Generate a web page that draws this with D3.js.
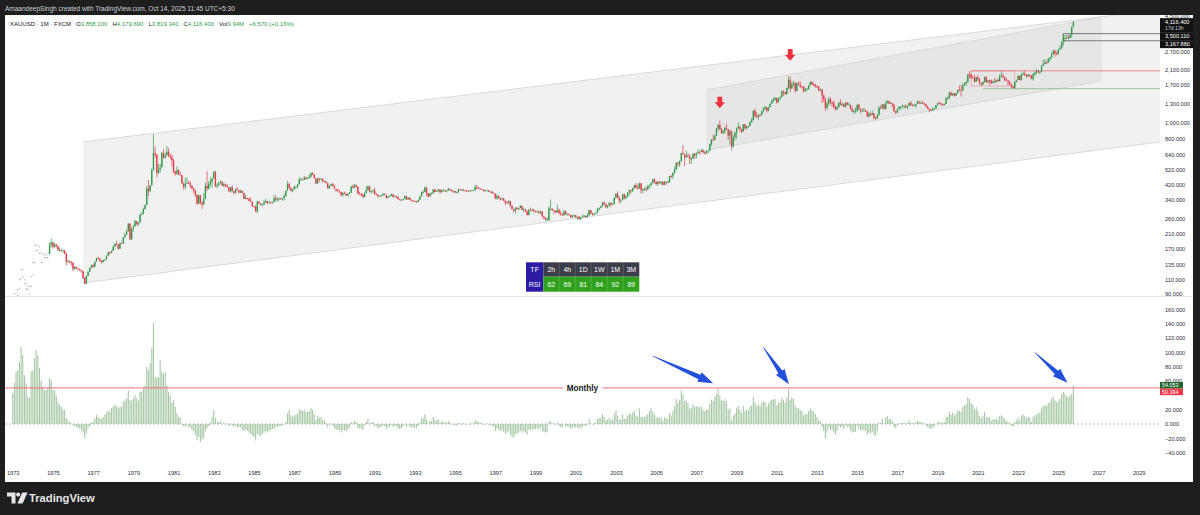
<!DOCTYPE html>
<html>
<head>
<meta charset="utf-8">
<script src="https://cdn.jsdelivr.net/npm/d3@7"></script>
<style>
  html, body { margin: 0; padding: 0; background: #1e1e1e; }
  svg { display: block; }
  text { font-family: "Liberation Sans", Arial, sans-serif; }
</style>
</head>
<body>
<script>
// ---------- data ----------
// Month index 0 = Jan 1973.
const yearLabels = ["1973","1975","1977","1979","1981","1983","1985","1987","1989","1991","1993","1995","1997","1999",
  "2001","2003","2005","2007","2009","2011","2013","2015","2017","2019","2021","2023","2025","2027","2029"];
const priceTicks = [4500, 2700, 2100, 1700, 1300, 1000, 800, 640, 520, 420, 340, 260, 210, 170, 135, 110, 90];
const oscTicks = [160, 140, 120, 100, 80, 60, 20, 0, -20, -40];

const symbolText = "XAUUSD · 1M · FXCM";
const lastBar = [3858.100, 4179.690, 3819.340, 4116.400]; // O H L C
const lastVolume = "9.94M";
const lastChange = "+6.570 (+0.16%)";
const countdown = "17d 13h";

const rsiFrames = ["2h", "4h", "1D", "1W", "1M", "3M"];
const rsiValues = [62, 69, 81, 84, 92, 89];

// Sparse prints Jan 1973 - Oct 1974
const earlyHighs = [68,90,92,96,110,126,127,110,105,101,100,115, 140,180,178,180,175,160,158,158,155,160];
const earlyLows  = [63,65,82,88,98,112,115,104,97,96,90,100, 118,140,165,168,160,140,140,150,150,150];

// Monthly candles from Nov 1974 (month index 22)
const candleStart = 22;
const firstOpen = 158;
const closes = [
 181,186,
 175,181,177,167,167,166,166,159,142,143,142,140,
 128,132,129,128,126,124,113,104,116,123,130,135,
 132,142,149,148,143,141,145,146,154,162,161,165,
 175,182,181,170,184,183,200,208,217,242,194,226,
 233,251,240,246,275,277,296,315,397,382,415,512,
 653,637,494,518,535,653,614,631,666,629,619,590,
 502,489,513,482,479,426,406,425,428,427,414,397,
 387,363,320,361,325,317,342,411,397,423,437,456,
 499,408,414,429,437,413,422,414,405,382,405,382,
 373,394,388,375,384,373,342,348,343,333,329,309,
 306,288,330,321,315,317,327,333,324,326,325,327,
 345,339,345,345,343,346,357,384,423,401,383,391,
 405,405,421,451,451,447,462,453,459,469,492,484,
 458,426,457,449,455,436,437,427,397,413,422,410,
 394,387,383,377,362,373,368,359,367,375,408,401,
 415,407,368,367,363,352,372,387,408,379,384,386,
 366,363,355,357,361,367,362,347,354,357,366,353,
 354,353,341,337,337,343,357,340,349,339,334,333,
 330,328,338,355,377,378,401,372,355,369,370,392,
 378,382,392,377,386,386,384,385,394,389,383,383,
 375,376,392,391,385,387,384,383,384,383,387,387,
 405,400,396,392,390,382,385,387,379,379,371,369,
 345,358,348,340,345,334,326,325,332,311,296,290,
 303,297,301,310,293,296,288,273,294,292,294,288,
 287,287,280,286,268,262,255,255,299,299,292,290,
 283,293,279,275,272,288,276,277,273,264,269,272,
 266,267,258,264,267,270,265,273,293,279,275,279,
 282,297,302,308,326,318,305,312,324,317,319,348,
 368,348,335,339,364,346,354,375,388,384,398,416,
 400,397,427,388,394,394,391,408,416,429,452,438,
 423,434,428,436,418,436,429,434,473,470,495,517,
 568,557,583,654,643,614,632,624,599,604,648,632,
 650,665,662,680,659,650,666,673,743,789,783,834,
 923,972,916,864,886,930,913,833,884,717,816,869,
 928,942,916,883,978,927,954,955,1008,1040,1182,1096,
 1081,1118,1113,1180,1213,1244,1181,1248,1308,1359,1386,1420,
 1332,1411,1439,1556,1536,1501,1628,1826,1620,1722,1746,1564,
 1738,1710,1669,1664,1561,1604,1614,1692,1772,1719,1712,1675,
 1662,1578,1595,1472,1393,1234,1313,1395,1327,1323,1251,1202,
 1240,1326,1284,1296,1250,1327,1282,1287,1211,1171,1182,1184,
 1283,1213,1183,1183,1190,1172,1095,1133,1115,1142,1065,1061,
 1116,1238,1233,1293,1215,1322,1351,1309,1316,1277,1173,1152,
 1211,1249,1249,1268,1268,1242,1269,1322,1280,1271,1275,1303,
 1345,1318,1325,1315,1298,1253,1224,1201,1192,1215,1222,1282,
 1321,1313,1292,1284,1305,1409,1413,1520,1472,1513,1464,1517,
 1589,1585,1577,1687,1730,1781,1975,1967,1886,1879,1776,1898,
 1847,1734,1707,1769,1907,1770,1814,1813,1743,1783,1775,1829,
 1797,1909,1937,1897,1838,1807,1766,1711,1661,1633,1768,1824,
 1928,1827,1969,1990,1963,1919,1965,1940,1849,1983,2036,2063,
 2039,2044,2230,2286,2327,2326,2447,2503,2634,2744,2643,2624,
 2798,2858,3124,3288,3289,3303,3290,3448,3858.1,4116.4
];
const highs = [
 186,197,
 186,185,182,178,173,170,168,166,160,146,144,142,
 140,133,133,130,128,127,124,114,117,124,131,136,
 137,142,150,152,149,145,146,147,155,163,163,166,
 178,184,190,181,185,186,200,213,223,243,244,227,
 238,256,250,246,278,284,303,316,412,447,417,524,
 850,713,645,560,560,660,690,657,721,700,649,640,
 602,511,541,520,502,480,432,462,464,442,440,415,
 402,387,366,361,350,332,372,432,506,440,462,458,
 510,508,426,437,445,436,430,425,420,398,405,416,
 383,396,406,388,390,388,357,362,348,349,351,332,
 309,314,334,330,322,320,338,343,333,332,330,330,
 362,359,349,349,347,346,367,384,442,430,403,391,
 416,409,421,463,464,450,474,470,463,484,499,499,
 483,456,460,454,458,456,444,441,431,413,425,430,
 419,394,397,390,378,376,380,372,369,378,410,419,
 423,421,410,379,372,369,375,411,413,412,384,391,
 401,372,365,360,362,371,372,357,356,362,369,366,
 360,358,354,342,341,343,361,358,349,347,339,337,
 334,332,339,358,380,387,409,405,371,373,377,392,
 394,387,393,393,389,396,388,389,400,396,391,385,
 385,380,396,395,392,395,388,390,387,387,390,389,
 418,416,404,400,395,391,389,392,387,384,385,375,
 369,365,358,348,350,346,336,333,336,334,314,298,
 305,302,304,315,302,301,297,291,298,303,299,298,
 290,291,288,291,290,268,264,265,309,340,300,293,
 292,316,300,290,280,293,291,280,278,274,275,275,
 272,267,269,266,275,275,271,280,294,291,282,281,
 282,302,304,312,327,330,322,315,327,327,325,349,
 373,382,355,340,370,371,363,376,391,391,400,417,
 428,420,430,428,397,405,407,418,420,432,455,457,
 433,441,444,439,438,441,430,445,474,479,497,541,
 575,576,588,655,730,640,675,651,641,615,650,648,
 658,692,669,693,690,673,684,677,743,794,845,844,
 928,975,1033,934,905,946,988,915,906,905,841,882,
 934,1006,960,914,980,986,957,958,1024,1070,1195,1227,
 1161,1120,1127,1180,1249,1265,1209,1249,1308,1387,1424,1431,
 1423,1416,1448,1576,1577,1553,1633,1913,1921,1772,1804,1764,
 1764,1792,1792,1678,1666,1640,1630,1692,1790,1796,1754,1722,
 1694,1679,1617,1612,1487,1425,1348,1434,1434,1361,1362,1268,
 1279,1332,1392,1331,1315,1332,1345,1323,1287,1255,1206,1238,
 1307,1305,1219,1224,1232,1205,1175,1169,1157,1191,1143,1089,
 1127,1263,1283,1303,1303,1362,1375,1367,1343,1318,1304,1183,
 1220,1264,1262,1295,1274,1296,1274,1331,1358,1306,1299,1307,
 1366,1361,1356,1366,1326,1309,1265,1221,1214,1243,1237,1284,
 1326,1346,1324,1310,1306,1439,1453,1555,1557,1518,1516,1525,
 1592,1689,1703,1747,1765,1789,1981,2075,1992,1933,1965,1900,
 1959,1871,1755,1798,1912,1917,1832,1834,1836,1813,1877,1831,
 1853,1974,2070,1998,1910,1880,1814,1808,1735,1682,1786,1833,
 1949,1959,2010,2049,2079,1984,1987,1949,1953,2009,2052,2135,
 2088,2065,2236,2431,2450,2387,2484,2531,2685,2790,2801,2726,
 2817,2956,3128,3500.11,3435,3452,3439,3453,3871,4179.69
];
const lows = [
 158,173,
 170,172,173,165,163,164,160,157,134,139,138,134,
 124,126,128,125,125,121,111,103,104,116,123,130,
 130,132,142,147,142,138,140,143,146,154,156,160,
 165,174,179,168,170,182,183,199,207,217,193,193,
 217,234,237,233,246,276,285,296,316,356,376,416,
 520,610,465,485,495,535,605,600,632,617,600,542,
 491,476,480,479,479,424,390,392,423,424,398,392,
 371,352,315,320,316,297,314,343,382,390,408,399,
 456,405,398,414,426,411,404,405,403,380,374,380,
 365,370,386,371,371,371,342,344,340,333,330,307,
 302,284,280,320,312,309,314,324,317,323,320,321,
 343,332,329,335,338,335,335,353,384,395,381,376,
 389,396,401,421,442,445,446,453,450,457,463,479,
 458,422,427,437,451,435,434,427,396,397,409,410,
 394,377,383,372,356,354,366,357,356,367,372,398,
 399,406,368,367,357,346,351,372,385,375,369,373,
 365,362,350,354,355,356,362,344,346,355,358,351,
 350,349,340,335,333,336,342,339,339,338,330,332,
 328,326,328,337,354,369,376,355,349,356,364,370,
 376,378,380,367,374,381,378,375,385,385,377,374,
 372,372,374,390,384,383,381,380,382,381,383,385,
 387,394,395,391,389,381,380,385,378,377,370,367,
 341,338,344,335,340,332,315,320,318,306,296,283,
 278,295,291,301,293,283,287,272,275,288,288,286,
 283,284,279,280,267,257,253,252,252,291,290,278,
 282,284,276,271,271,271,276,271,271,264,264,265,
 262,255,256,255,264,264,264,264,270,277,271,272,
 277,281,291,300,308,314,301,300,308,306,316,317,
 344,346,322,324,336,340,342,351,361,369,378,396,
 399,390,395,370,372,382,383,392,397,411,425,425,
 415,412,425,419,414,415,418,427,430,460,454,489,
 513,539,538,579,639,543,613,610,560,561,602,602,
 604,650,636,664,650,641,648,650,672,720,774,782,
 848,888,906,858,850,858,909,786,736,681,705,777,
 801,912,880,865,881,906,908,931,954,1003,1033,1075,
 1075,1044,1089,1114,1158,1198,1155,1175,1243,1316,1331,1361,
 1309,1329,1380,1422,1462,1478,1480,1604,1534,1605,1669,1523,
 1563,1723,1628,1614,1527,1547,1565,1587,1686,1696,1672,1636,
 1627,1555,1562,1321,1338,1180,1207,1271,1293,1251,1221,1187,
 1202,1240,1280,1268,1241,1240,1281,1273,1206,1161,1132,1142,
 1167,1197,1142,1170,1170,1163,1077,1077,1099,1114,1053,1046,
 1061,1107,1208,1212,1200,1207,1310,1302,1304,1241,1172,1123,
 1146,1209,1195,1241,1214,1236,1205,1265,1271,1261,1264,1236,
 1302,1307,1303,1302,1282,1250,1211,1160,1180,1183,1196,1221,
 1277,1311,1280,1266,1274,1300,1382,1400,1460,1459,1445,1454,
 1517,1562,1451,1568,1681,1671,1757,1863,1849,1860,1764,1776,
 1802,1717,1677,1720,1766,1750,1750,1688,1721,1746,1759,1753,
 1780,1781,1890,1872,1787,1805,1681,1709,1615,1618,1617,1765,
 1824,1804,1810,1949,1932,1893,1903,1885,1846,1810,1931,1973,
 2001,1984,2039,2229,2277,2286,2353,2364,2471,2604,2536,2583,
 2614,2833,2833,2957,3121,3247,3268,3268,3311,3819.34
];

// Oscillator histogram, Jan 1973 - Oct 2025
const oscValues = [
 43,57,73,75,87,108,96,68,57,38,36,73,
 75,92,103,96,78,61,52,47,47,52,64,61,
 47,47,40,31,27,24,20,20,8,5,3,1,
 -2,-3,-4,-5,-7,-8,-12,-20,-13,-6,-3,2,
 3,8,13,10,8,7,10,13,16,19,17,22,
 25,27,25,22,24,24,31,33,36,47,33,33,
 36,40,36,33,45,45,50,54,80,75,85,106,
 141,65,65,65,89,73,70,73,54,45,40,30,
 33,24,15,10,9,0,-3,-4,-1,-4,-5,-8,
 -10,-15,-22,-18,-25,-22,-20,-10,-6,-3,2,10,
 20,8,2,3,4,0,2,-1,1,-3,0,-2,
 -4,-2,-5,-4,-5,-8,-10,-8,-10,-12,-14,-16,
 -18,-23,-14,-16,-17,-14,-12,-10,-12,-10,-8,-7,
 -6,-4,-4,-3,-3,-2,0,3,15,20,12,10,
 12,13,15,20,20,18,20,17,17,18,22,20,
 14,6,12,9,10,5,5,2,-5,-1,1,-2,
 -6,-8,-8,-9,-12,-8,-9,-10,-8,-5,3,1,
 5,3,-6,-6,-6,-8,-2,3,8,1,2,3,
 -3,-3,-6,-5,-4,-2,-3,-7,-5,-4,-1,-4,
 -3,-3,-6,-7,-6,-4,0,-4,-1,-4,-5,-5,
 -5,-6,-3,2,8,8,14,6,1,4,4,10,
 5,5,7,2,4,3,2,2,4,2,0,0,
 -2,-2,2,1,0,1,0,0,0,0,1,1,
 5,4,3,2,1,-1,0,1,-1,-1,-3,-4,
 -10,-6,-8,-10,-8,-11,-13,-12,-10,-15,-18,-19,
 -14,-14,-12,-9,-12,-10,-12,-15,-8,-8,-7,-8,
 -7,-6,-8,-5,-10,-11,-12,-11,3,4,1,1,
 -1,2,-3,-4,-5,0,-4,-3,-4,-7,-5,-4,
 -5,-4,-7,-5,-4,-2,-3,0,7,2,0,1,
 2,7,8,9,14,10,5,6,9,6,6,14,
 19,11,6,7,13,7,8,12,15,13,16,19,
 12,10,22,10,10,9,12,14,18,22,17,13,
 8,10,8,9,5,9,7,8,15,12,18,25,
 35,30,34,47,41,32,33,29,22,22,28,24,
 24,25,23,24,20,18,20,20,28,34,32,38,
 42,51,40,33,32,35,31,20,22,5,12,15,
 22,25,20,16,25,18,20,19,24,26,38,30,
 25,27,25,30,31,31,24,28,32,34,34,35,
 26,30,30,37,34,30,38,49,34,37,35,25,
 22,22,19,18,12,14,14,18,22,19,17,14,
 10,5,4,-4,-10,-20,-12,-5,-9,-8,-12,-15,
 -10,-3,-5,-4,-7,-2,-5,-4,-9,-12,-11,-11,
 -3,-7,-9,-9,-8,-10,-15,-12,-13,-11,-16,-16,
 -10,2,2,7,1,9,11,7,7,4,-4,-6,
 -2,1,1,2,2,0,2,5,2,1,1,3,
 5,3,3,2,1,-2,-4,-6,-7,-5,-4,0,
 3,3,2,2,3,10,10,17,13,16,12,15,
 19,18,17,24,26,28,38,35,29,27,20,24,
 18,11,8,11,17,9,10,9,5,7,6,8,
 6,11,12,10,7,5,3,1,-2,-4,3,5,
 10,5,12,13,11,8,10,9,3,10,12,13,
 15,16,22,25,27,25,29,31,35,38,33,30,
 32,35,42,45,42,39,37,40,42,54.053
];
const oscLevel = 50.394;
const oscLevelName = "Monthly";

// Drawings: [month index, price]
const outerChannelUpper = [[42, 763], [600, 3844]];
const outerChannelLower = [[42, 105], [600, 588]];
const innerChannelUpper = [[414, 1586], [650, 4428]];
const innerChannelLower = [[414, 682], [650, 1799]];
const rangeRays = [[627, 3500.11], [627, 3167.88]];
const resistanceRay = [572, 2075];
const supportRay = [579, 1615];
const rangeBox = [[572, 2075], [598, 1677]];
const topMarkers = [[422, 1225], [464, 2394]];
// Oscillator arrows: [tail month, tail value, tip month, tip value]
const oscArrows = [[382, 95, 418, 57], [448, 107, 463.2, 55.4], [610, 100, 629.5, 57.6]];

// ---------- layout & scales ----------
const W = 1200, H = 515;
const plotL = 5, plotR = 1160, axisX = 1165;
const mainTop = 15, mainBot = 296, oscTop = 297, oscBot = 463;
const upColor = "#2f9a48", downColor = "#e53945";
const axisFont = 5.6;

const x = d3.scaleLinear().domain([0, 624]).range([12.7, 1058.3]);
const y = d3.scaleLog().domain([90, 4500]).range([294, 15.8]);
const yo = d3.scaleLinear().domain([-40, 160]).range([452.66, 309.36]);

const svg = d3.select("body").append("svg").attr("width", W).attr("height", H);
const defs = svg.append("defs");
defs.append("clipPath").attr("id", "clipMain").append("rect")
  .attr("x", plotL).attr("y", mainTop).attr("width", plotR - plotL).attr("height", mainBot - mainTop);
defs.append("clipPath").attr("id", "clipOsc").append("rect")
  .attr("x", plotL).attr("y", oscTop).attr("width", plotR - plotL).attr("height", oscBot - oscTop);

svg.append("rect").attr("width", W).attr("height", H).attr("fill", "#1e1e1e");
svg.append("rect").attr("x", 5).attr("y", 15).attr("width", 1188).attr("height", 467).attr("fill", "#ffffff");

// ---------- main pane ----------
const main = svg.append("g").attr("clip-path", "url(#clipMain)");

function px(p) { return [x(p[0]), y(p[1])]; }
function extendTo(a, b, xr) {
  const s = (b[1] - a[1]) / (b[0] - a[0]);
  return [xr, a[1] + s * (xr - a[0])];
}

// outer channel, extended to the right edge
{
  const u1 = px(outerChannelUpper[0]), u2 = extendTo(u1, px(outerChannelUpper[1]), plotR + 2);
  const l1 = px(outerChannelLower[0]), l2 = extendTo(l1, px(outerChannelLower[1]), plotR + 2);
  main.append("polygon").attr("points", [u1, u2, l2, l1].map(p => p.join(",")).join(" "))
    .attr("fill", "#f1f1f1");
  main.append("line").attr("x1", u1[0]).attr("y1", u1[1]).attr("x2", u2[0]).attr("y2", u2[1])
    .attr("stroke", "#d2d2d2").attr("stroke-width", 0.8);
  main.append("line").attr("x1", l1[0]).attr("y1", l1[1]).attr("x2", l2[0]).attr("y2", l2[1])
    .attr("stroke", "#d2d2d2").attr("stroke-width", 0.8);
}
// inner channel
{
  const u1 = px(innerChannelUpper[0]), u2 = px(innerChannelUpper[1]);
  const l1 = px(innerChannelLower[0]), l2 = px(innerChannelLower[1]);
  main.append("polygon").attr("points", [u1, u2, l2, l1].map(p => p.join(",")).join(" "))
    .attr("fill", "#e6e6e6");
  [[u1, u2], [l1, l2]].forEach(([a, b]) =>
    main.append("line").attr("x1", a[0]).attr("y1", a[1]).attr("x2", b[0]).attr("y2", b[1])
      .attr("stroke", "#d0d0d0").attr("stroke-width", 0.7));
}

// horizontal levels
rangeRays.forEach(r => {
  main.append("line").attr("x1", x(r[0])).attr("x2", plotR).attr("y1", y(r[1])).attr("y2", y(r[1]))
    .attr("stroke", "#6b6b6b").attr("stroke-width", 0.9);
});
main.append("line").attr("x1", x(rangeRays[0][0])).attr("x2", x(rangeRays[0][0]))
  .attr("y1", y(rangeRays[0][1])).attr("y2", y(rangeRays[1][1])).attr("stroke", "#6b6b6b").attr("stroke-width", 0.9);
main.append("rect").attr("x", x(rangeBox[0][0])).attr("y", y(rangeBox[0][1]))
  .attr("width", x(rangeBox[1][0]) - x(rangeBox[0][0])).attr("height", y(rangeBox[1][1]) - y(rangeBox[0][1]))
  .attr("fill", "none").attr("stroke", "#e9a0a4").attr("stroke-width", 0.8);
main.append("line").attr("x1", x(resistanceRay[0])).attr("x2", plotR)
  .attr("y1", y(resistanceRay[1])).attr("y2", y(resistanceRay[1])).attr("stroke", "#ec7c82").attr("stroke-width", 0.9);
main.append("line").attr("x1", x(supportRay[0])).attr("x2", plotR)
  .attr("y1", y(supportRay[1])).attr("y2", y(supportRay[1])).attr("stroke", "#8cc38f").attr("stroke-width", 0.9);

// early sparse prints
earlyHighs.forEach((h, i) => {
  [h, earlyLows[i]].forEach(v => {
    main.append("circle").attr("cx", x(i)).attr("cy", y(v)).attr("r", 0.55).attr("fill", "#8a8d96");
  });
});

// candles
const candles = closes.map((c, i) => ({
  m: candleStart + i, o: i ? closes[i - 1] : firstOpen, h: highs[i], l: lows[i], c
}));
main.selectAll("line.wick").data(candles).join("line").attr("class", "wick")
  .attr("x1", d => x(d.m)).attr("x2", d => x(d.m))
  .attr("y1", d => y(Math.max(d.h, d.o, d.c))).attr("y2", d => y(Math.min(d.l, d.o, d.c)))
  .attr("stroke", d => d.c >= d.o ? upColor : downColor).attr("stroke-width", 0.7);
main.selectAll("rect.body").data(candles).join("rect").attr("class", "body")
  .attr("x", d => x(d.m) - 0.65).attr("width", 1.3)
  .attr("y", d => y(Math.max(d.o, d.c)))
  .attr("height", d => Math.max(0.8, Math.abs(y(d.o) - y(d.c))))
  .attr("fill", d => d.c >= d.o ? upColor : downColor);

// top markers (down arrows)
topMarkers.forEach(([m, p]) => {
  const cx = x(m), ty = y(p);
  main.append("path")
    .attr("d", `M${cx - 2.4},${ty - 11.6} L${cx + 2.4},${ty - 11.6} L${cx + 2.4},${ty - 6} L${cx + 5.2},${ty - 6} L${cx},${ty} L${cx - 5.2},${ty - 6} L${cx - 2.4},${ty - 6} Z`)
    .attr("fill", "#f0313e");
});

// pane separator
svg.append("line").attr("x1", 5).attr("x2", 1193).attr("y1", 296.5).attr("y2", 296.5)
  .attr("stroke", "#e0e3eb").attr("stroke-width", 1);

// ---------- oscillator pane ----------
const osc = svg.append("g").attr("clip-path", "url(#clipOsc)");
osc.append("line").attr("x1", plotL).attr("x2", plotR).attr("y1", yo(0)).attr("y2", yo(0))
  .attr("stroke", "#9598a1").attr("stroke-width", 0.7).attr("stroke-dasharray", "2,2");
osc.selectAll("rect.bar").data(oscValues).join("rect").attr("class", "bar")
  .attr("x", (d, i) => x(i) - 0.55).attr("width", 1.1)
  .attr("y", d => Math.min(yo(0), yo(d))).attr("height", d => Math.max(0.5, Math.abs(yo(d) - yo(0))))
  .attr("fill", "#a6c8a6");
osc.append("line").attr("x1", plotL).attr("x2", plotR).attr("y1", yo(oscLevel)).attr("y2", yo(oscLevel))
  .attr("stroke", "#f26d75").attr("stroke-width", 1);
{
  const cx = (plotL + plotR) / 2;
  const t = osc.append("text").attr("x", cx).attr("y", yo(oscLevel)).attr("dy", "0.35em")
    .attr("text-anchor", "middle").attr("font-size", 8.2).attr("font-weight", 600).attr("fill", "#131722")
    .text(oscLevelName);
  const bb = t.node().getBBox();
  osc.insert("rect", "text").attr("x", bb.x - 4).attr("y", bb.y).attr("width", bb.width + 8).attr("height", bb.height)
    .attr("fill", "#ffffff");
}
oscArrows.forEach(([m1, v1, m2, v2]) => {
  const x1 = x(m1), y1 = yo(v1), x2 = x(m2), y2 = yo(v2);
  const L = Math.hypot(x2 - x1, y2 - y1), ux = (x2 - x1) / L, uy = (y2 - y1) / L, nx = -uy, ny = ux;
  const hl = Math.min(15, L * 0.34), hw = 5.2, bw = 2.4, tw = 0.3;
  const bx = x2 - ux * hl, by = y2 - uy * hl;
  const pts = [
    [x1 + nx * tw, y1 + ny * tw], [bx + nx * bw, by + ny * bw], [bx + nx * hw, by + ny * hw], [x2, y2],
    [bx - nx * hw, by - ny * hw], [bx - nx * bw, by - ny * bw], [x1 - nx * tw, y1 - ny * tw]
  ];
  osc.append("polygon").attr("points", pts.map(p => p.join(",")).join(" ")).attr("fill", "#2150da");
});

// ---------- RSI table ----------
{
  const tx = 526, ty = 262.3, c0 = 17.3, cw = 16, h1 = 14.4, h2 = 15;
  const tg = svg.append("g").attr("font-size", 7).attr("fill", "#fff");
  tg.append("rect").attr("x", tx).attr("y", ty).attr("width", c0).attr("height", h1 + h2).attr("fill", "#2b1ca3");
  tg.append("rect").attr("x", tx + c0).attr("y", ty).attr("width", cw * rsiFrames.length).attr("height", h1).attr("fill", "#3b3e48");
  tg.append("rect").attr("x", tx + c0).attr("y", ty + h1).attr("width", cw * rsiFrames.length).attr("height", h2).attr("fill", "#32a11e");
  for (let i = 1; i < rsiFrames.length; i++) {
    tg.append("line").attr("x1", tx + c0 + i * cw).attr("x2", tx + c0 + i * cw).attr("y1", ty).attr("y2", ty + h1 + h2)
      .attr("stroke", "#ffffff").attr("stroke-opacity", 0.25).attr("stroke-width", 0.6);
  }
  tg.append("text").attr("x", tx + c0 / 2).attr("y", ty + h1 / 2).attr("dy", "0.35em").attr("text-anchor", "middle").attr("fill", "#fff").text("TF");
  tg.append("text").attr("x", tx + c0 / 2).attr("y", ty + h1 + h2 / 2).attr("dy", "0.35em").attr("text-anchor", "middle").attr("fill", "#fff").text("RSI");
  rsiFrames.forEach((f, i) => {
    const cx = tx + c0 + i * cw + cw / 2;
    tg.append("text").attr("x", cx).attr("y", ty + h1 / 2).attr("dy", "0.35em").attr("text-anchor", "middle").attr("fill", "#fff").text(f);
    tg.append("text").attr("x", cx).attr("y", ty + h1 + h2 / 2).attr("dy", "0.35em").attr("text-anchor", "middle").attr("fill", "#fff").text(rsiValues[i]);
  });
}

// ---------- axes ----------
const fmt3 = d3.format(",.3f");
function styleAxis(g) {
  g.select(".domain").remove();
  g.selectAll(".tick line").remove();
  g.selectAll("text").attr("font-size", axisFont).attr("fill", "#2a2e39")
    .attr("font-family", "Liberation Sans, Arial, sans-serif");
}
svg.append("g").attr("transform", `translate(${axisX},0)`)
  .call(d3.axisRight(y).tickValues(priceTicks).tickFormat(fmt3).tickSize(0).tickPadding(0))
  .call(styleAxis);
svg.append("g").attr("transform", `translate(${axisX},0)`)
  .call(d3.axisRight(yo).tickValues(oscTicks).tickFormat(fmt3).tickSize(0).tickPadding(0))
  .call(styleAxis);
svg.append("g").attr("transform", "translate(0,471)")
  .call(d3.axisBottom(x).tickValues(yearLabels.map(s => (+s - 1973) * 12))
    .tickFormat((d, i) => yearLabels[i]).tickSize(0).tickPadding(0))
  .call(styleAxis);

// price-scale labels, stacked so they do not overlap
function stackLabels(items, scale) {
  let prevBottom = -Infinity;
  return items.map(it => {
    const top = Math.max(scale(it.v) - it.lh / 2, prevBottom);
    prevBottom = top + it.h;
    return Object.assign({}, it, { top });
  });
}
const priceLabels = stackLabels([
  { v: lastBar[3], lh: 8, h: 14, fill: "#111111", sub: countdown },
  { v: rangeRays[0][1], lh: 8, h: 8, fill: "#111111" },
  { v: rangeRays[1][1], lh: 8, h: 8, fill: "#111111" }
], y);
priceLabels.forEach(l => {
  svg.append("rect").attr("x", 1160).attr("y", l.top).attr("width", 33).attr("height", l.h).attr("fill", l.fill);
  svg.append("text").attr("x", axisX).attr("y", l.top + l.lh / 2).attr("dy", "0.35em")
    .attr("font-size", axisFont).attr("fill", "#ffffff").text(fmt3(l.v));
  if (l.sub) svg.append("text").attr("x", axisX).attr("y", l.top + l.lh / 2 + 6).attr("dy", "0.35em")
    .attr("font-size", 5.2).attr("fill", "#c9cbd1").text(l.sub);
});
const oscLabels = stackLabels([
  { v: oscValues[oscValues.length - 1], lh: 6.6, h: 6.6, fill: "#22662c" },
  { v: oscLevel, lh: 6.6, h: 6.6, fill: "#f23645" }
], yo);
oscLabels.forEach(l => {
  svg.append("rect").attr("x", 1160).attr("y", l.top).attr("width", 23).attr("height", l.h).attr("fill", l.fill);
  svg.append("text").attr("x", 1162).attr("y", l.top + l.lh / 2).attr("dy", "0.35em")
    .attr("font-size", 5.4).attr("fill", "#ffffff").text(fmt3(l.v));
});

// ---------- legend line ----------
{
  const dark = "#131722", val = upColor;
  const t = svg.append("text").attr("x", 10).attr("y", 25.5).attr("font-size", 6).attr("fill", dark);
  t.append("tspan").text(symbolText);
  ["O", "H", "L", "C"].forEach((k, i) => {
    t.append("tspan").attr("dx", 5).attr("fill", dark).text(k);
    t.append("tspan").attr("fill", val).text(fmt3(lastBar[i]));
  });
  t.append("tspan").attr("dx", 5).attr("fill", dark).text("Vol");
  t.append("tspan").attr("fill", val).text(lastVolume);
  t.append("tspan").attr("dx", 5).attr("fill", val).text(lastChange);
}

// ---------- frame ----------
svg.append("rect").attr("x", 0).attr("y", 0).attr("width", W).attr("height", 15).attr("fill", "#1e1e1e");
svg.append("text").attr("x", 5).attr("y", 10.5).attr("font-size", 6.5).attr("fill", "#cfd1d6")
  .text("AmaandeepSingh created with TradingView.com, Oct 14, 2025 11:45 UTC+5:30");
svg.append("rect").attr("x", 0).attr("y", 482).attr("width", W).attr("height", H - 482).attr("fill", "#1e1e1e");
svg.append("rect").attr("x", 0).attr("y", 0).attr("width", 5).attr("height", H).attr("fill", "#1e1e1e");
svg.append("rect").attr("x", 1193).attr("y", 0).attr("width", 7).attr("height", H).attr("fill", "#1e1e1e");

// TradingView logo
{
  const lg = svg.append("g").attr("fill", "#e6e6e6");
  lg.append("path").attr("d", "M7,492.5 L15.5,492.5 L15.5,503.5 L11.5,503.5 L11.5,496.5 L7,496.5 Z");
  lg.append("circle").attr("cx", 18.2).attr("cy", 494.6).attr("r", 2.1);
  lg.append("path").attr("d", "M22.2,492.5 L27.6,492.5 L22.6,503.5 L17.4,503.5 Z");
  svg.append("text").attr("x", 29).attr("y", 501.8).attr("font-size", 11.2).attr("font-weight", 700)
    .attr("fill", "#e6e6e6").text("TradingView");
}
</script>
</body>
</html>
